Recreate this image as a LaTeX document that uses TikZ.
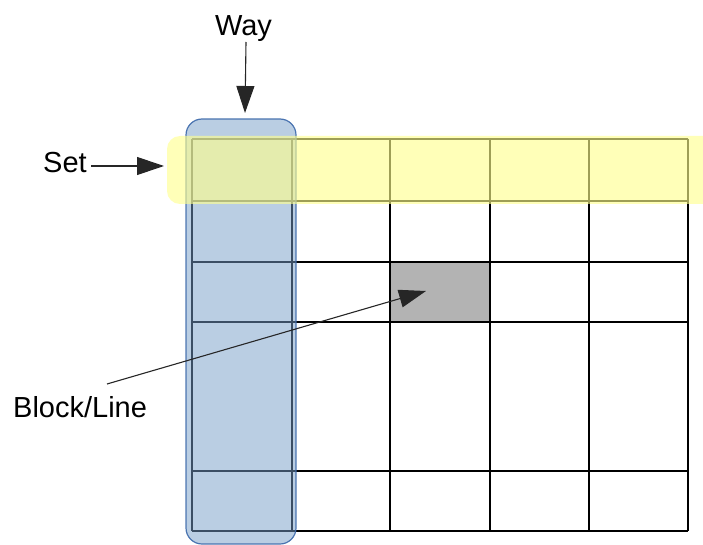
\documentclass[tikz,border=0pt]{standalone}
\usepackage{fontspec}
\setmainfont{Liberation Sans}
\usetikzlibrary{arrows.meta}
\definecolor{wayblue}{RGB}{118,157,200}
\definecolor{wayedge}{RGB}{60,105,170}
\definecolor{setyellow}{RGB}{255,255,140}
\definecolor{cellgray}{RGB}{179,179,179}
\tikzset{
  gridline/.style={line width=2pt, black},
  label/.style={inner sep=0pt, font=\fontsize{29}{34}\selectfont},
  pointer/.style={line width=1.1pt, black!85, -{Triangle[length=27pt,width=18pt]}}
}
\begin{document}
\begin{tikzpicture}[x=1pt,y=-1pt]
\useasboundingbox (0,0) rectangle (703,545);
\clip (0,0) rectangle (703,545);
% highlighted cell
\fill[cellgray] (390,262) rectangle (490,322);
% grid
\foreach \xx in {192,292,390,490,589,688}
  \draw[gridline] (\xx,139) -- (\xx,531);
\foreach \yy in {139,201,262,322,471,531}
  \draw[gridline] (192,\yy) -- (688,\yy);
% way column
\draw[fill=wayblue, fill opacity=0.5, draw=wayedge, draw opacity=0.9, line width=1.2pt, rounded corners=16pt]
  (186,119) rectangle (296,544);
% set row
\fill[setyellow, fill opacity=0.62, rounded corners=13pt] (167,136) rectangle (720,204);
% labels
\node[label, anchor=base] (way) at (243.5,36) {Way};
\node[label, anchor=base west] (set) at (43,173) {Set};
\node[label, anchor=base west] (block) at (13,417) {Block/Line};
\coordinate (waystart) at (246,42);
\coordinate (waytip) at (245,113);
\coordinate (setstart) at (91,166);
\coordinate (settip) at (164,166);
\coordinate (blockstart) at (107,384);
\coordinate (blocktip) at (426,291);
\draw[pointer] (waystart) -- (waytip);
\draw[pointer] (setstart) -- (settip);
\draw[pointer] (blockstart) -- (blocktip);
\end{tikzpicture}
\end{document}
